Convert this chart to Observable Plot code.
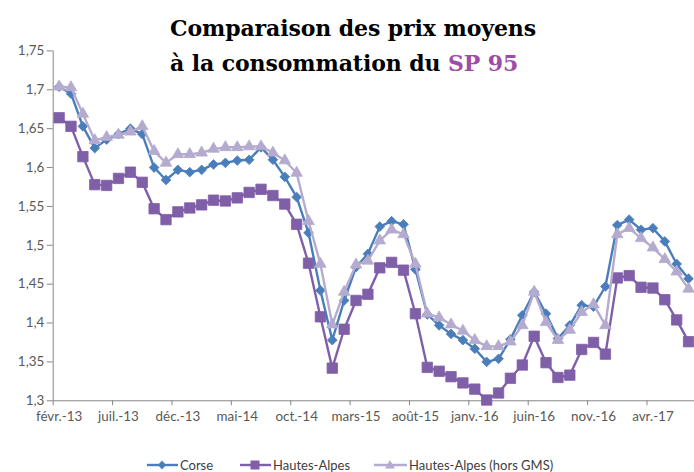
<!DOCTYPE html>
<html><head><meta charset="utf-8">
<script src="https://cdn.jsdelivr.net/npm/d3@7"></script>
<script src="https://cdn.jsdelivr.net/npm/@observablehq/plot@0.6"></script>
<style>
html,body{margin:0;padding:0;background:#fff;overflow:hidden;width:694px;height:472px;}
#wrap{position:relative;width:694px;height:472px;overflow:hidden;}
#chart{position:absolute;left:0;top:0;}
#title{position:absolute;left:170px;top:11px;font-family:"DejaVu Serif";font-weight:bold;font-size:22px;line-height:35px;color:#000;white-space:nowrap;z-index:2;letter-spacing:-0.1px;}
#title .sp{color:#a04ca6;}
#legend{position:absolute;top:456px;left:0;width:694px;height:18px;font-family:Lato;font-size:13px;color:#404040;}
.item{position:absolute;top:0;display:flex;align-items:center;height:18px;white-space:nowrap;}
</style></head>
<body>
<div id="wrap">
  <div id="chart"></div>
  <div id="title">Comparaison des prix moyens<br>à la consommation du <span class="sp">SP 95</span></div>
  <div id="legend"></div>
</div>
<script>
const months = ["févr.-13","mars-13","avr.-13","mai-13","juin-13","juil.-13","août-13","sept.-13","oct.-13","nov.-13",
"déc.-13","janv.-14","févr.-14","mars-14","avr.-14","mai-14","juin-14","juil.-14","août-14","sept.-14",
"oct.-14","nov.-14","déc.-14","janv.-15","févr.-15","mars-15","avr.-15","mai-15","juin-15","juil.-15",
"août-15","sept.-15","oct.-15","nov.-15","déc.-15","janv.-16","févr.-16","mars-16","avr.-16","mai-16",
"juin-16","juil.-16","août-16","sept.-16","oct.-16","nov.-16","déc.-16","janv.-17","févr.-17","mars-17",
"avr.-17","mai-17","juin-17","juil.-17"];

const corse = [1.704,1.695,1.653,1.625,1.636,1.643,1.650,1.643,1.600,1.584,
1.597,1.594,1.597,1.604,1.606,1.609,1.610,1.626,1.610,1.588,
1.562,1.516,1.442,1.378,1.429,1.472,1.489,1.524,1.531,1.527,
1.469,1.411,1.397,1.386,1.378,1.367,1.350,1.354,1.379,1.410,
1.440,1.412,1.380,1.397,1.423,1.421,1.447,1.526,1.533,1.520,
1.522,1.505,1.476,1.457];

const hautesAlpes = [1.664,1.653,1.614,1.578,1.577,1.586,1.594,1.581,1.547,1.533,
1.543,1.548,1.552,1.558,1.557,1.561,1.568,1.572,1.564,1.553,
1.527,1.477,1.408,1.342,1.392,1.429,1.437,1.471,1.478,1.468,
1.412,1.343,1.338,1.331,1.323,1.315,1.301,1.310,1.329,1.346,
1.383,1.349,1.330,1.333,1.366,1.375,1.360,1.458,1.461,1.446,
1.445,1.430,1.404,1.376];

const horsGMS = [1.704,1.703,1.669,1.635,1.639,1.642,1.646,1.653,1.621,1.606,
1.617,1.617,1.619,1.624,1.626,1.626,1.627,1.627,1.619,1.609,
1.593,1.531,1.476,1.398,1.440,1.475,1.480,1.506,1.520,1.514,
1.476,1.412,1.407,1.398,1.390,1.378,1.370,1.370,1.376,1.397,
1.440,1.401,1.378,1.391,1.414,1.424,1.397,1.514,1.522,1.509,
1.497,1.482,1.466,1.444];

const seriesNames = ["Corse","Hautes-Alpes","Hautes-Alpes (hors GMS)"];
const seriesColors = ["#4a7ebb","#7f5fa8","#b5abcf"];
const seriesSymbols = ["diamond2","square","triangle"];
const seriesR = [4.4,5.9,4.3];

const yTicks = [1.3,1.35,1.4,1.45,1.5,1.55,1.6,1.65,1.7,1.75];
const yTickLabels = ["1,3","1,35","1,4","1,45","1,5","1,55","1,6","1,65","1,7","1,75"];
const xLabelEvery = 5;

const seriesValues = [corse, hautesAlpes, horsGMS];
const labelIdx = months.map((m,i)=>i).filter(i=>i%xLabelEvery===0);
const boundaries = labelIdx.map(i=>i-0.5);

const marks = [
  Plot.ruleX([-0.5], {stroke:"#868686", strokeWidth:1}),
  Plot.ruleY([1.3], {stroke:"#868686", strokeWidth:1}),
  Plot.axisY({ticks:yTicks, tickFormat:d=>yTickLabels[yTicks.indexOf(d)], tickSize:6, tickPadding:3, stroke:"#868686", fill:"#595959", label:null, fontSize:13.5}),
  Plot.axisX({ticks:boundaries, tickFormat:()=>"", tickSize:5, stroke:"#868686", label:null}),
  Plot.axisX({ticks:labelIdx, tickFormat:i=>months[i], tickSize:0, tickPadding:11, fill:"#595959", label:null, fontSize:13.5})
];
seriesValues.forEach((vals,k)=>{
  const rows = vals.map((v,i)=>({i, v}));
  marks.push(Plot.line(rows, {x:"i", y:"v", stroke:seriesColors[k], strokeWidth:2.4}));
  marks.push(Plot.dot(rows, {x:"i", y:"v", symbol:seriesSymbols[k], r:seriesR[k], fill:seriesColors[k], stroke:seriesColors[k], strokeWidth:0.8}));
});

const chart = Plot.plot({
  width:698, height:430,
  marginLeft:53, marginRight:0, marginTop:50.7, marginBottom:27.4,
  x:{type:"linear", domain:[-0.5, months.length-0.5]},
  y:{domain:[1.3,1.75]},
  style:{fontFamily:"Lato", fontSize:"13.5px", background:"transparent", overflow:"visible"},
  marks
});
document.getElementById("chart").appendChild(chart);

// legend
const legendX = [147, 240, 374];
const legend = document.getElementById("legend");
seriesNames.forEach((name,k)=>{
  const item = document.createElement("div");
  item.className = "item";
  item.style.left = legendX[k] + "px";
  const sym = seriesSymbols[k];
  const c = seriesColors[k];
  let shape;
  if (sym === "diamond2") shape = `<path d="M15,4.5 L19,9 L15,13.5 L11,9 Z" fill="${c}"/>`;
  else if (sym === "square") shape = `<rect x="10.5" y="4.5" width="9" height="9" fill="${c}"/>`;
  else shape = `<path d="M16,4 L21,12.5 L11,12.5 Z" fill="${c}"/>`;
  const w = k===2 ? 33 : 31;
  item.innerHTML = `<svg width="${w}" height="18"><line x1="0" x2="${w}" y1="9" y2="9" stroke="${c}" stroke-width="2.4"/>${shape}</svg><span style="margin-left:2px">${name}</span>`;
  legend.appendChild(item);
});
</script>
</body></html>
